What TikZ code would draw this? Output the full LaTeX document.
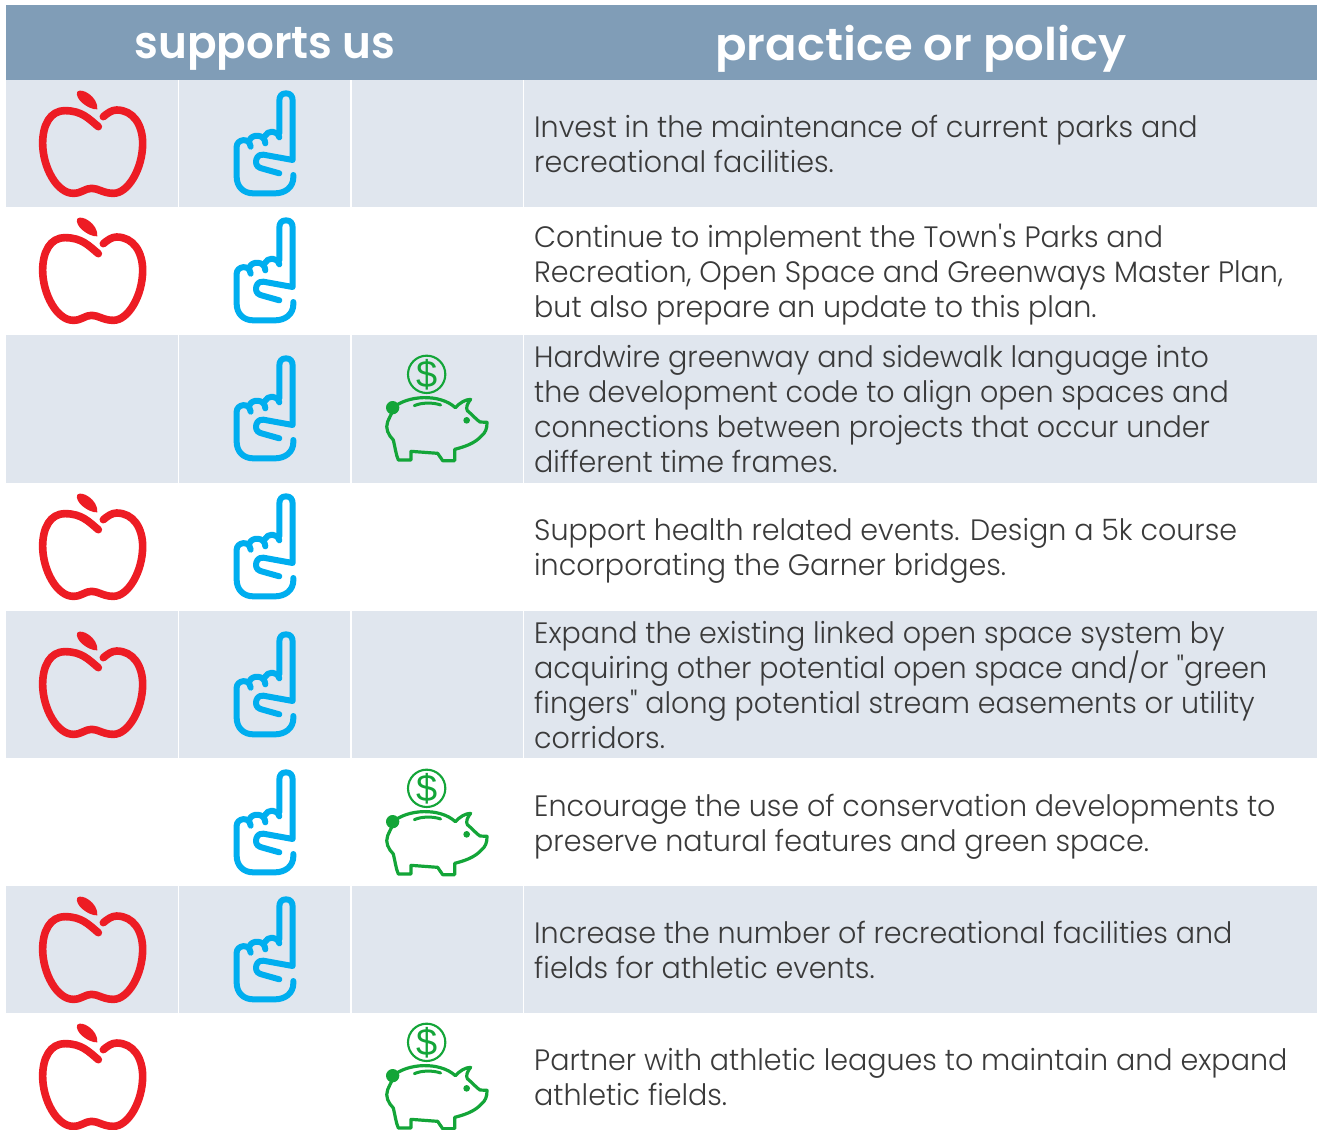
\documentclass[tikz,border=0pt]{standalone}
\usepackage{fontspec}
\newfontfamily\bodyfont{Poppins}[UprightFont=* Light,FakeStretch=0.968]
\newfontfamily\headfont{Poppins}[UprightFont=* SemiBold,FakeStretch=0.97]
\newfontfamily\dollarfont{Liberation Sans}
\newcommand\bodyset{\bodyfont\fontsize{29.5}{35}\selectfont\setlength{\lineskiplimit}{-100pt}\relax}
\definecolor{hdr}{HTML}{809DB7}
\definecolor{band}{HTML}{E0E6EE}
\definecolor{appler}{HTML}{ED1C24}
\definecolor{handb}{HTML}{00AEEF}
\definecolor{pigg}{HTML}{13A538}
\definecolor{ink}{HTML}{3A3A3A}
\tikzset{
 apple/.pic={
  \begin{scope}[scale=1/3]
  \draw[appler,line width=7.6pt,line cap=round,line join=round]
   (235,140) .. controls (205,115) and (185,92) .. (135,92)
   .. controls (90,92) and (68,135) .. (68,190)
   .. controls (68,260) and (110,340) .. (160,340)
   .. controls (185,340) and (195,325) .. (215,325)
   .. controls (235,325) and (250,340) .. (280,340)
   .. controls (325,340) and (368,265) .. (368,190)
   .. controls (368,135) and (340,90) .. (290,90)
   .. controls (275,90) and (262,100) .. (250,110);
  \fill[appler] (172,35) .. controls (185,22) and (235,50) .. (232,88)
   .. controls (205,90) and (162,55) .. (172,35) -- cycle;
  \end{scope}},
 hand/.pic={
  \begin{scope}[scale=1/3]
  \draw[handb,line width=6pt,line cap=round,line join=round]
   (778,160) -- (778,62) .. controls (778,48) and (785,40) .. (798,40)
   .. controls (811,40) and (818,48) .. (818,62) -- (818,240)
   -- (730,224) .. controls (712,222) and (708,238) .. (708,246)
   .. controls (708,258) and (716,263) .. (728,266) -- (778,280);
  \draw[handb,line width=6pt,line cap=round,line join=round]
   (820,285) -- (820,292) .. controls (820,322) and (795,340) .. (765,340)
   -- (700,340) .. controls (670,340) and (650,320) .. (650,290) -- (650,200)
   .. controls (650,178) and (688,170) .. (692,200);
  \draw[handb,line width=6pt,line cap=round,line join=round]
   (688,182) .. controls (695,160) and (735,162) .. (736,190);
  \draw[handb,line width=6pt,line cap=round,line join=round]
   (735,168) .. controls (742,152) and (770,148) .. (778,172);
  \end{scope}},
 piggy/.pic={
  \begin{scope}[scale=1/3]
  \draw[pigg,line width=2.1pt] (170,103) circle (56);
  \node[text=pigg,font=\dollarfont\fontsize{38}{38}\selectfont] at (170,103) {\$};
  \draw[pigg,line width=3.2pt,line join=round,line cap=round]
   (68,205) .. controls (110,165) and (210,160) .. (256,203)
   .. controls (268,190) and (285,178) .. (302,178)
   .. controls (292,190) and (287,203) .. (292,212)
   .. controls (308,225) and (320,240) .. (330,246) -- (351,247)
   .. controls (352,265) and (345,280) .. (335,287)
   .. controls (315,310) and (285,320) .. (254,328)
   -- (254,362) -- (218,362) -- (203,340) -- (123,334) -- (123,360) -- (85,360)
   .. controls (78,345) and (75,320) .. (70,300)
   .. controls (55,285) and (45,265) .. (53,245)
   .. controls (56,235) and (62,228) .. (66,218);
  \draw[pigg,line width=3pt,line cap=round] (133,197) .. controls (155,187) and (190,187) .. (212,195);
  \fill[pigg] (68,203) circle (20);
  \fill[pigg] (290,241) circle (10);
  \end{scope}},
 policy/.style={anchor=west,align=left,inner sep=0pt,text=ink,font=\bodyset},
 head/.style={text=white,inner sep=0pt,font=\headfont\fontsize{45}{45}\selectfont},
 sep/.style={draw=white,line width=1.2pt}
}
\begin{document}
\begin{tikzpicture}[x=1pt,y=-1pt]
\useasboundingbox (0,0) rectangle (1323,1130);
\fill[white] (0,0) rectangle (1323,1130);
\fill[hdr] (6,5) rectangle (1317,80);
\fill[band] (6,80) rectangle (1317,207);
\fill[band] (6,335) rectangle (1317,483);
\fill[band] (6,611) rectangle (1317,758);
\fill[band] (6,886) rectangle (1317,1013);
\foreach \a/\b in {80/207,335/483,611/758,886/1013}
 \foreach \x in {178.5,351,523.5} \draw[sep] (\x,\a) -- (\x,\b);
\node[head] (h1) at (265,49) {supports us};
\node[head,xscale=1.065] (h2) at (921,49) {practice or policy};
\foreach \o in {0,127,403,541,806,933} \pic at (20,80+\o) {apple};
\foreach \o in {0,127,265,403,541,679,806} \pic at (20,80+\o) {hand};
\foreach \o in {340,754,1008} \pic at (370,\o) {piggy};
\node[policy] (p1) at (534,144) {Invest in the maintenance of current parks and\\recreational facilities.};
\node[policy] (p2) at (534,275) {Continue to implement the Town's Parks and\\Recreation, Open Space and Greenways Master Plan,\\but also prepare an update to this plan.};
\node[policy] (p3) at (534,409) {Hardwire greenway and sidewalk language into\\the development code to align open spaces and\\connections between projects that occur under\\different time frames.};
\node[policy] (p4) at (534,551) {Support health related events. Design a 5k course\\incorporating the Garner bridges.};
\node[policy] (p5) at (534,685) {Expand the existing linked open space system by\\acquiring other potential open space and/or "green\\fingers" along potential stream easements or utility\\corridors.};
\node[policy] (p6) at (534,827) {Encourage the use of conservation developments to\\preserve natural features and green space.};
\node[policy] (p7) at (534,950) {Increase the number of recreational facilities and\\fields for athletic events.};
\node[policy] (p8) at (534,1077) {Partner with athletic leagues to maintain and expand\\athletic fields.};
\end{tikzpicture}
\end{document}
